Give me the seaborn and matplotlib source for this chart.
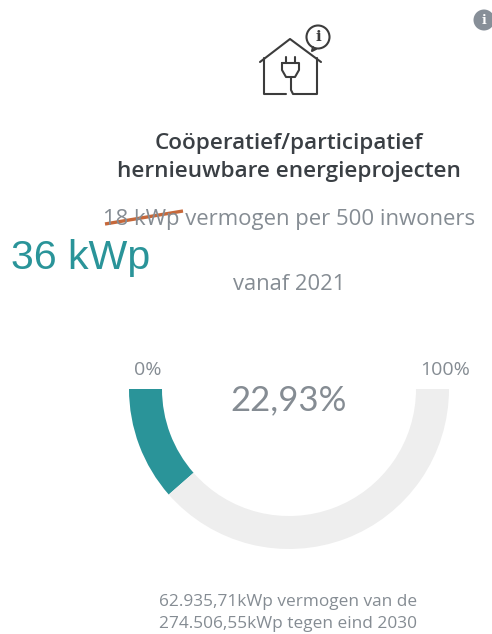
import numpy as np
import seaborn as sns
import matplotlib
matplotlib.use('Agg')
import matplotlib.pyplot as plt
from matplotlib.patches import Circle, Polygon

# values
achieved = 22.93
remaining = 100 - achieved
hidden = 100
pct_label = '22,93%'
scale_labels = ['0%', '100%']
title_lines = ['Coöperatief/participatief', 'hernieuwbare energieprojecten']

sns.set_theme(style='white')
plt.rcParams['font.family'] = ['Open Sans', 'DejaVu Sans']

teal = '#2a9499'
track = '#eeeeee'
grey = '#858c93'
dark = '#3a3f44'

fig = plt.figure(figsize=(4.92, 6.34), dpi=100)

# full-figure axes in pixel coordinates for text and icons
ax = fig.add_axes([0, 0, 1, 1])
ax.set_xlim(0, 492)
ax.set_ylim(634, 0)
ax.axis('off')

# half donut
W, H = 492, 634
cx, cy, r = 289, 389, 160
pie_ax = fig.add_axes([(cx - r) / W, 1 - (cy + r) / H, 2 * r / W, 2 * r / H])
pie_ax.pie([achieved, remaining, hidden], colors=[teal, track, 'none'],
           startangle=180, radius=1, wedgeprops={'width': 33 / r, 'linewidth': 0})
pie_ax.set_xlim(-1, 1)
pie_ax.set_ylim(-1, 1)
pie_ax.patch.set_alpha(0)

# house icon
ic = dict(color='#3c3c3c', lw=1.5, solid_capstyle='round', solid_joinstyle='round')
ax.plot([260, 290, 321], [62, 39, 62], **ic)
ax.plot([286, 264, 264], [94, 94, 58], **ic)
ax.plot([297, 317, 317], [94, 94, 58], **ic)
ax.plot([291, 291, 293, 297], [77, 90, 94, 94], **ic)
ax.plot([282, 282, 286, 295, 299, 299, 282], [63, 70, 77, 77, 70, 63, 63], **ic)
ax.plot([286, 286], [57, 63], **ic)
ax.plot([295, 295], [57, 63], **ic)
ax.add_patch(Circle((318, 37), 11.5, fill=False, ec='#3c3c3c', lw=1.5))
ax.plot([313, 312, 316], [47, 51, 49], **ic)
ax.text(318, 37, 'i', ha='center', va='center', fontsize=11, fontweight='bold',
        color='#3c3c3c', family='DejaVu Serif')

# info dot
ax.add_patch(Circle((484, 20), 10.5, fc='#878f98', ec='none'))
ax.text(484, 20, 'i', ha='center', va='center', fontsize=9, fontweight='bold',
        color='white', family='DejaVu Serif')

# texts
ax.text(289, 143, title_lines[0], ha='center', va='center', fontsize=16.2, fontweight='semibold', color=dark)
ax.text(289, 171, title_lines[1], ha='center', va='center', fontsize=16.2, fontweight='semibold', color=dark)
ax.text(289, 220, '18 kWp vermogen per 500 inwoners', ha='center', va='center', fontsize=15.9, color=grey)
ax.plot([105, 183], [224, 211], color='#c6683a', lw=2.4, solid_capstyle='butt')
ax.text(11, 258, '36 kWp', ha='left', va='center', fontsize=29.6, color=teal, family='Liberation Sans')
ax.text(289, 285, 'vanaf 2021', ha='center', va='center', fontsize=15.8, color=grey)

ax.text(148, 370, scale_labels[0], ha='center', va='center', fontsize=14, color=grey)
ax.text(445, 370, scale_labels[1], ha='center', va='center', fontsize=14, color=grey)
ax.text(289, 400, pct_label, ha='center', va='center', fontsize=25, color=grey, family='Lato')

ax.text(288, 602, '62.935,71kWp vermogen van de', ha='center', va='center', fontsize=12.4, color=grey)
ax.text(288, 624, '274.506,55kWp tegen eind 2030', ha='center', va='center', fontsize=12.4, color=grey)

fig.savefig('out.png', dpi=100)
